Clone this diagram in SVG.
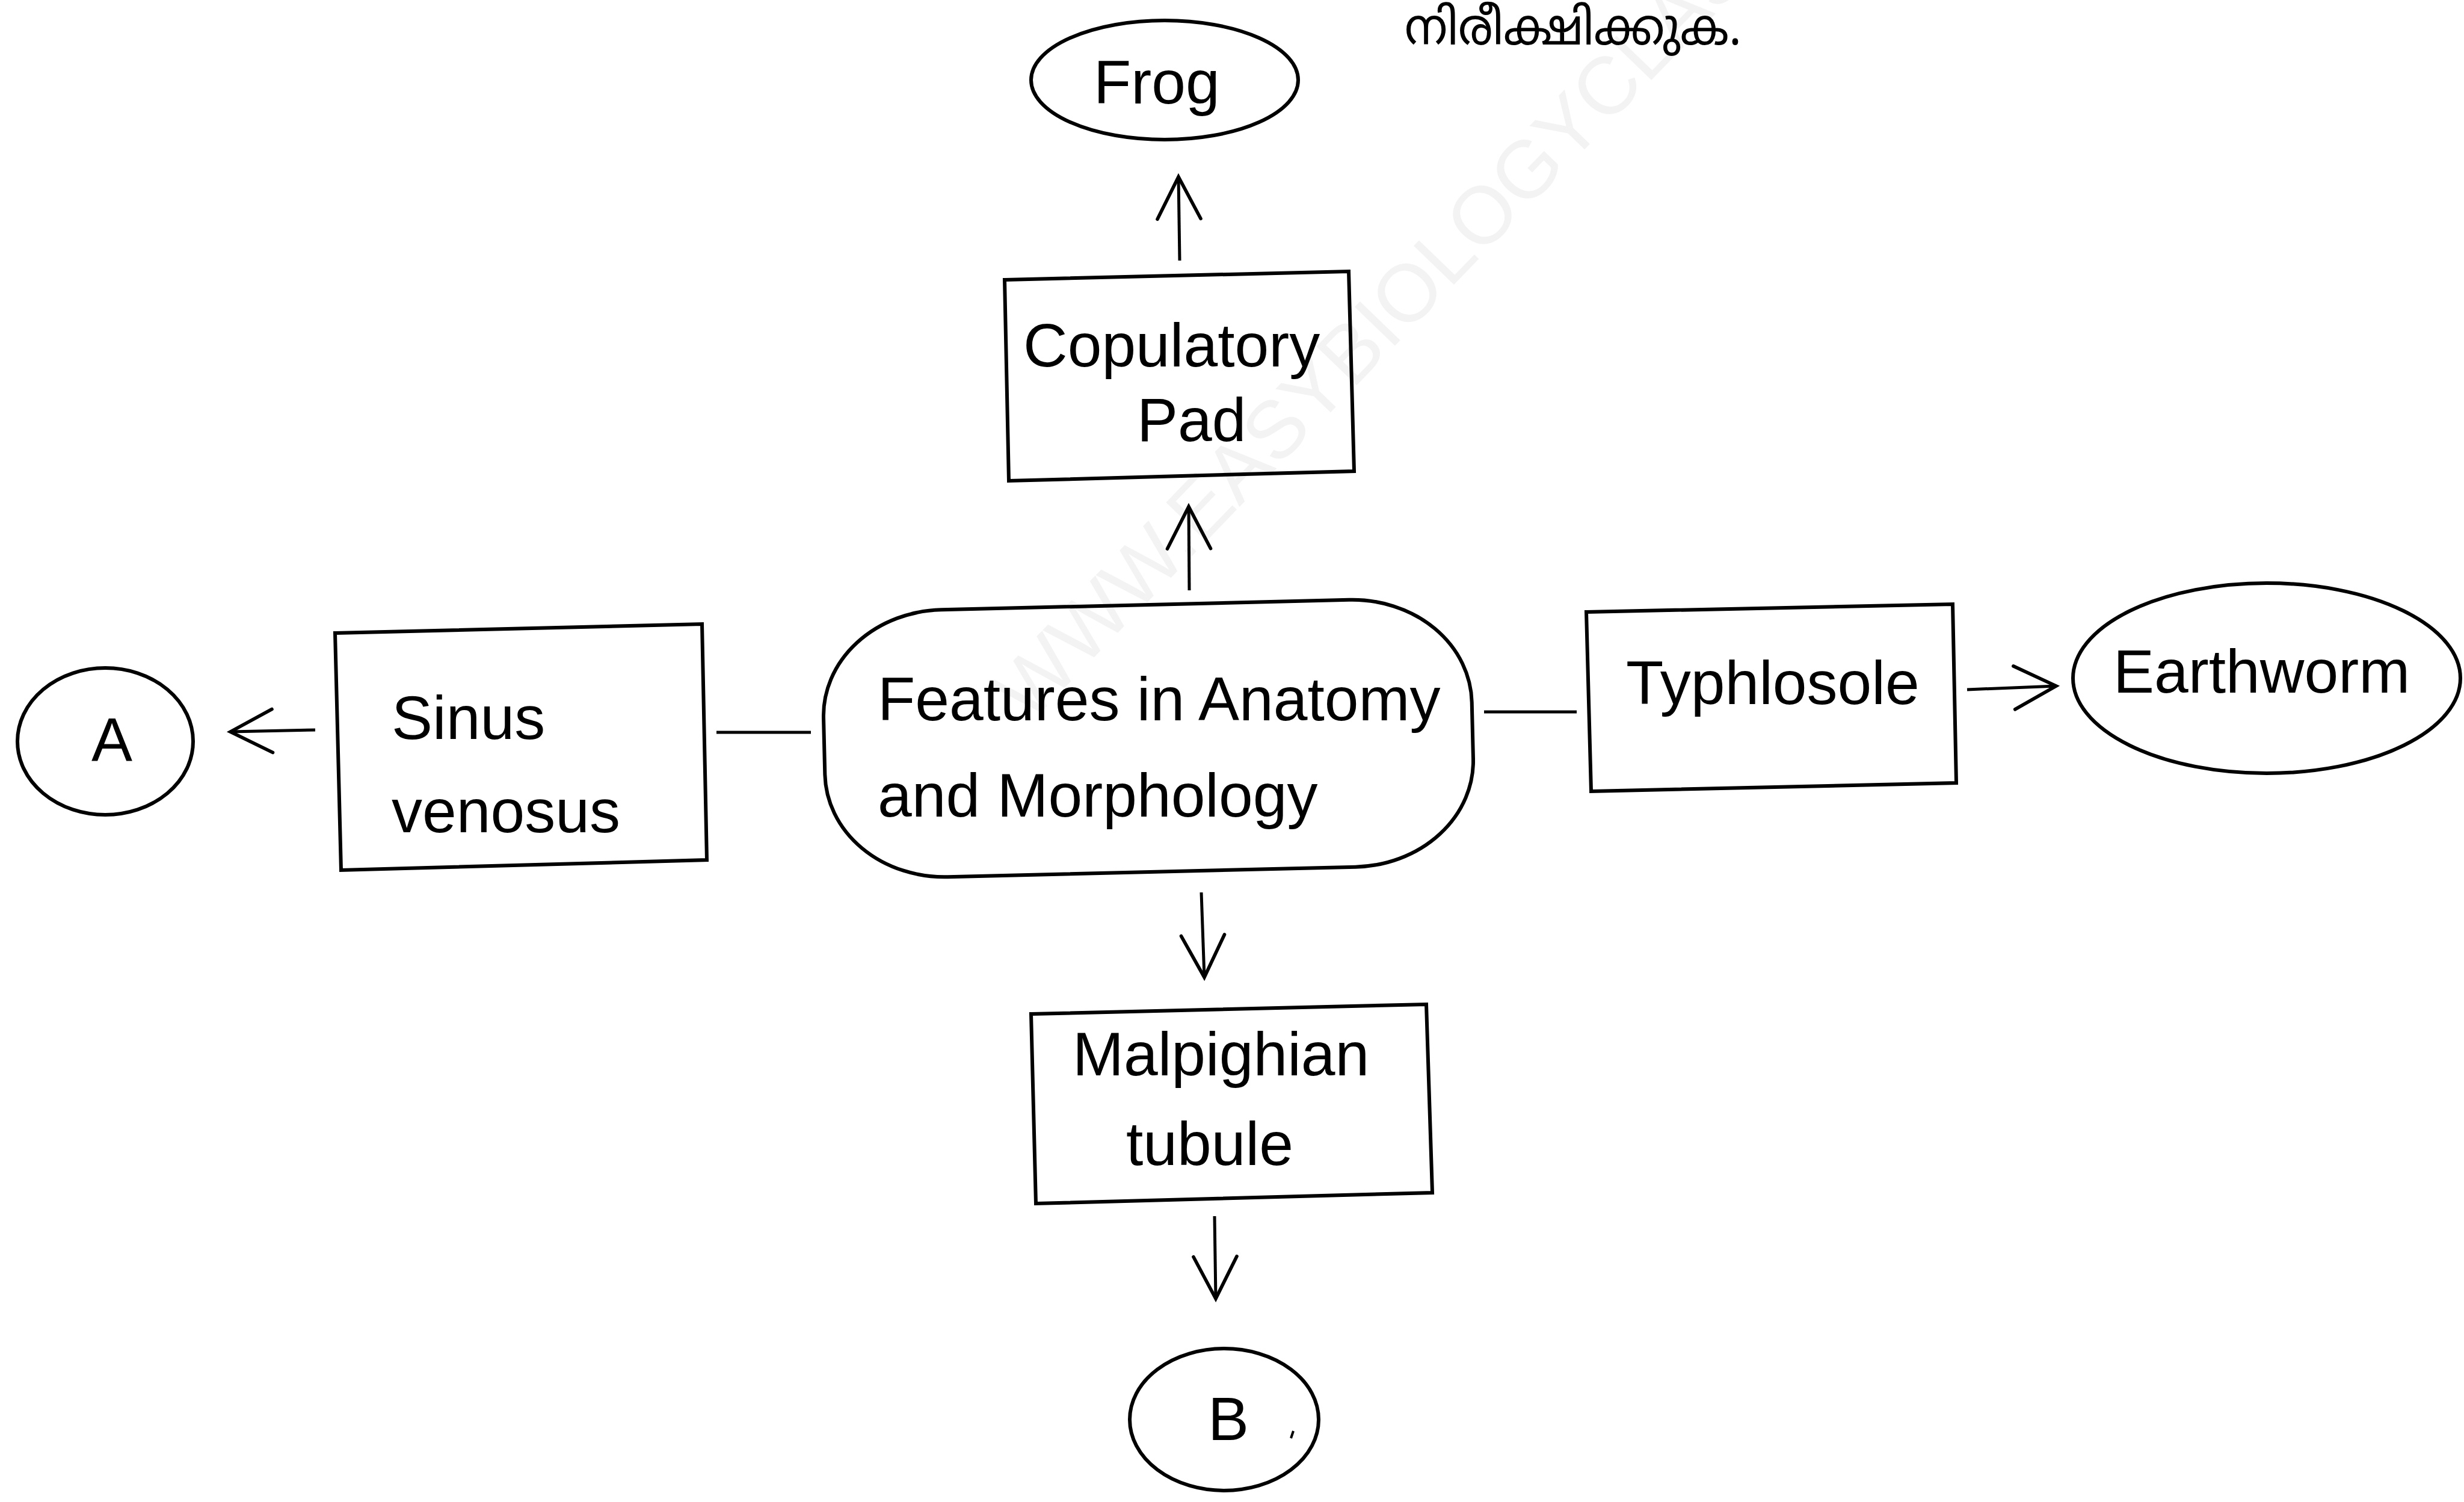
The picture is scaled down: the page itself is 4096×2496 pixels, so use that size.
<svg xmlns="http://www.w3.org/2000/svg" width="4096" height="2496" viewBox="0 0 4096 2496">
<style>
.lbl{font-family:"Liberation Sans",Arial,Helvetica,sans-serif;font-size:102px;fill:#000}
.box{fill:none;stroke:#000;stroke-width:6;stroke-linejoin:miter}
.oval{fill:none;stroke:#000;stroke-width:6}
.conn{fill:none;stroke:#000;stroke-width:5;stroke-linecap:butt}
.wm{font-family:"Liberation Sans",Arial,sans-serif;font-size:135px;fill:#f3f3f3}
.ml{font-family:"Noto Sans Malayalam","Noto Sans",sans-serif;font-size:84px;fill:#000}
</style>
<defs>
<marker id="arr" markerUnits="userSpaceOnUse" markerWidth="90" markerHeight="90" viewBox="-70 -40 80 80" refX="0" refY="0" orient="auto" overflow="visible">
<path d="M-62,-32 L0,0 L-62,32" fill="none" stroke="#000" stroke-width="5" stroke-linecap="round" stroke-linejoin="miter"/>
</marker>
</defs>
<rect width="4096" height="2496" fill="#fff"/>
<g id="watermark">
<text class="wm" transform="translate(1711 1204) rotate(-46)">WWW.EASYBIOLOGYCLASS</text>
</g>
<g id="heading">
<text class="ml" x="2335" y="74" textLength="560" lengthAdjust="spacingAndGlyphs">നിരീക്ഷിക്കുക.</text>
</g>
<g id="connectors">
<line class="conn" x1="1961" y1="433" x2="1959" y2="294" marker-end="url(#arr)"/>
<line class="conn" x1="1977" y1="981" x2="1976" y2="842" marker-end="url(#arr)"/>
<line class="conn" x1="1191" y1="1217" x2="1348" y2="1217"/>
<line class="conn" x1="524" y1="1213" x2="383" y2="1216" marker-end="url(#arr)"/>
<line class="conn" x1="2467" y1="1183" x2="2621" y2="1183"/>
<line class="conn" x1="3270" y1="1146" x2="3418" y2="1140" marker-end="url(#arr)"/>
<line class="conn" x1="1997" y1="1483" x2="2002" y2="1624" marker-end="url(#arr)"/>
<line class="conn" x1="2019" y1="2021" x2="2021" y2="2158" marker-end="url(#arr)"/>
</g>
<g id="node-frog">
<ellipse class="oval" cx="1936" cy="133" rx="222" ry="99"/>
<text class="lbl" x="1818" y="172">Frog</text>
</g>
<g id="node-copulatory-pad">
<polygon class="box" points="1670,465 2242,451 2251,783 1677,799"/>
<text class="lbl" x="1701" y="609">Copulatory</text>
<text class="lbl" x="1890" y="733">Pad</text>
</g>
<g id="node-features">
<rect class="box" x="1370" y="1005" width="1078" height="444" rx="200" ry="175" stroke-width="7" transform="rotate(-1.4 1909 1227)"/>
<text class="lbl" x="1459" y="1197">Features in Anatomy</text>
<text class="lbl" x="1459" y="1357">and Morphology</text>
</g>
<g id="node-sinus-venosus">
<polygon class="box" points="557,1052 1167,1037 1175,1429 567,1446"/>
<text class="lbl" x="651" y="1228">Sinus</text>
<text class="lbl" x="651" y="1383">venosus</text>
</g>
<g id="node-a">
<ellipse class="oval" cx="175" cy="1232" rx="146" ry="122"/>
<text class="lbl" x="186" y="1265" text-anchor="middle">A</text>
</g>
<g id="node-typhlosole">
<polygon class="box" points="2637,1017 3246,1004 3252,1301 2645,1315"/>
<text class="lbl" x="2703" y="1170">Typhlosole</text>
</g>
<g id="node-earthworm">
<ellipse class="oval" cx="3768" cy="1127" rx="322" ry="158"/>
<text class="lbl" x="3513" y="1151">Earthworm</text>
</g>
<g id="node-malpighian">
<polygon class="box" points="1714,1685 2371,1669 2381,1982 1722,2000"/>
<text class="lbl" x="1783" y="1787">Malpighian</text>
<text class="lbl" x="1872" y="1936">tubule</text>
</g>
<g id="node-b">
<ellipse class="oval" cx="2035" cy="2359" rx="157" ry="118"/>
<text class="lbl" x="2042" y="2393" text-anchor="middle">B</text>
<path d="M2150,2378 L2146,2390" stroke="#000" stroke-width="4" fill="none"/>
</g>
</svg>
